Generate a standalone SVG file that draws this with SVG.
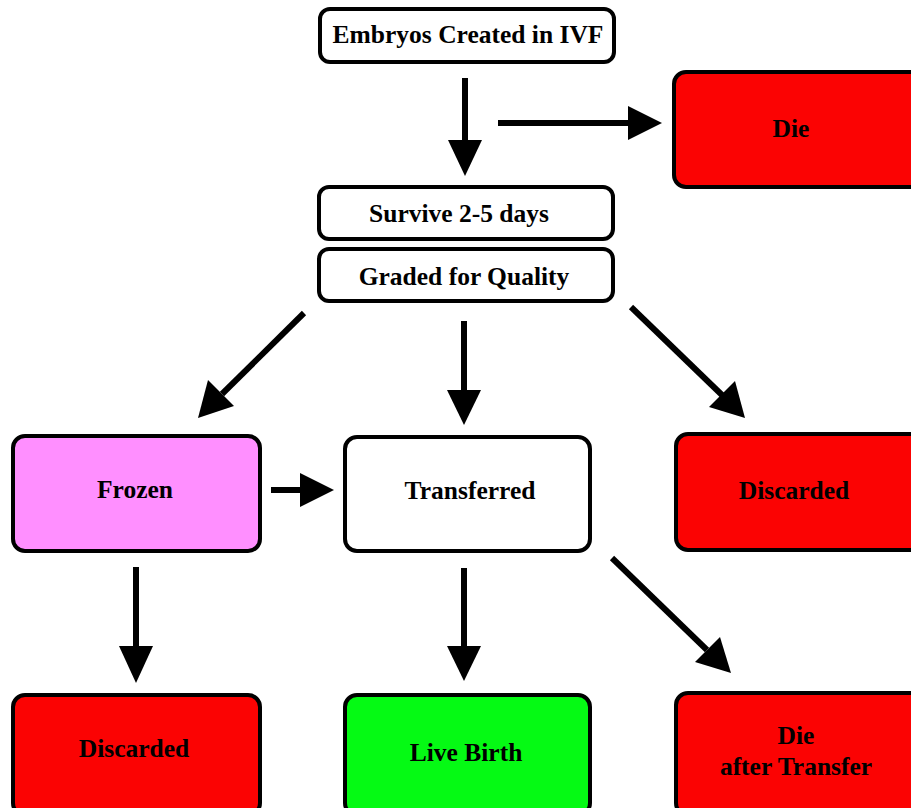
<svg xmlns="http://www.w3.org/2000/svg" width="911" height="808" viewBox="0 0 911 808">
<style>
.box{stroke:#000;stroke-width:4;}
.w{fill:#fff}.r{fill:#fb0303}.p{fill:#ff8fff}.g{fill:#05fa14}
text{font-family:"Liberation Serif","Times New Roman",serif;font-weight:bold;font-size:25.5px;text-anchor:middle;fill:#000}
.ln{stroke:#000;stroke-width:6;fill:none}
.hd{fill:#000}
</style>
<rect width="911" height="808" fill="#fff"/>
<g id="embryos"><rect class="box w" x="320" y="9" width="294" height="53" rx="10"/><text x="468" y="43">Embryos Created in IVF</text></g>
<g id="die"><rect class="box r" x="674" y="72" width="250" height="115" rx="12"/><text x="791" y="137">Die</text></g>
<g id="survive"><rect class="box w" x="319" y="187" width="294" height="52" rx="10"/><text x="459" y="222">Survive 2-5 days</text></g>
<g id="graded"><rect class="box w" x="319" y="249" width="294" height="52" rx="10"/><text x="464" y="285">Graded for Quality</text></g>
<g id="frozen"><rect class="box p" x="13" y="436" width="247" height="115" rx="12"/><text x="135" y="498">Frozen</text></g>
<g id="transferred"><rect class="box w" x="345" y="437" width="245" height="114" rx="12"/><text x="470" y="499">Transferred</text></g>
<g id="discarded1"><rect class="box r" x="676" y="434" width="250" height="116" rx="12"/><text x="794" y="499">Discarded</text></g>
<g id="discarded2"><rect class="box r" x="13" y="695" width="247" height="120" rx="12"/><text x="134" y="757">Discarded</text></g>
<g id="livebirth"><rect class="box g" x="345" y="695" width="245" height="120" rx="12"/><text x="466" y="761">Live Birth</text></g>
<g id="dieafter"><rect class="box r" x="676" y="693" width="250" height="122" rx="12"/><text x="796" y="744">Die</text><text x="796" y="775">after Transfer</text></g>
<g id="connectors">
<line class="ln" x1="465" y1="78" x2="465" y2="142"/><polygon class="hd" points="448,140 482,140 465,176"/>
<line class="ln" x1="498" y1="123" x2="632" y2="123"/><polygon class="hd" points="628,106 628,140 662,123"/>
<line class="ln" x1="304" y1="313" x2="222" y2="394"/><polygon class="hd" points="208,380 234,406 198,418"/>
<line class="ln" x1="464" y1="321" x2="464" y2="392"/><polygon class="hd" points="447,390 481,390 464,425"/>
<line class="ln" x1="631" y1="307" x2="722" y2="395"/><polygon class="hd" points="709,407 735,381 745,418"/>
<line class="ln" x1="271" y1="490" x2="302" y2="490"/><polygon class="hd" points="300,473 300,507 334,490"/>
<line class="ln" x1="136" y1="567" x2="136" y2="648"/><polygon class="hd" points="119,646 153,646 136,683"/>
<line class="ln" x1="464" y1="568" x2="464" y2="648"/><polygon class="hd" points="447,646 481,646 464,681"/>
<line class="ln" x1="612" y1="558" x2="707" y2="650"/><polygon class="hd" points="695,662 720,637 731,673"/>
</g>
</svg>
